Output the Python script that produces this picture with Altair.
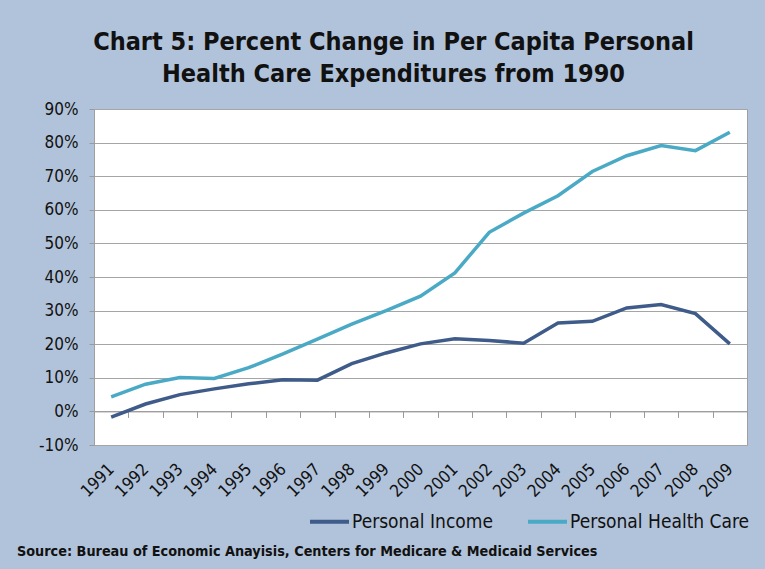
import altair as alt
import pandas as pd

years = [str(y) for y in range(1991, 2010)]
income = [-1.7, 2.2, 5.0, 6.7, 8.2, 9.4, 9.3, 14.2, 17.4, 20.1, 21.6, 21.1, 20.3, 26.3, 26.8, 30.8, 31.8, 29.1, 20.1]
health = [4.3, 8.1, 10.1, 9.8, 13.0, 17.1, 21.5, 26.0, 30.0, 34.3, 41.2, 53.3, 59.0, 64.2, 71.4, 76.1, 79.1, 77.6, 83.1]
series = ["Personal Income", "Personal Health Care"]
colors = ["#3e5b89", "#4aaac5"]
y_ticks = [-0.1, 0.0, 0.1, 0.2, 0.3, 0.4, 0.5, 0.6, 0.7, 0.8, 0.9]
title_lines = ["Chart 5: Percent Change in Per Capita Personal", "Health Care Expenditures from 1990"]
source = "Source: Bureau of Economic Anayisis, Centers for Medicare & Medicaid Services"

FONT = "Liberation Sans Narrow, DejaVu Sans Condensed, Lato, sans-serif"

rows = []
for i, yr in enumerate(years):
    rows.append({"year": yr, "series": series[0], "value": income[i] / 100})
    rows.append({"year": yr, "series": series[1], "value": health[i] / 100})
df = pd.DataFrame(rows)

lines = alt.Chart(df).mark_line(strokeWidth=3.5).encode(
    x=alt.X("year:O", sort=years, bandPosition=0.5,
            scale=alt.Scale(type="band", paddingInner=0, paddingOuter=0),
            axis=alt.Axis(title=None, labelAngle=-45, labelAlign="right", labelBaseline="middle",
                          tickBand="extent", tickSize=6, tickColor="#9a9a9a",
                          domainColor="#9a9a9a", offset=-33.6, labelPadding=49,
                          labelFontSize=17, labelFont=FONT, labelColor="#111111")),
    y=alt.Y("value:Q", scale=alt.Scale(domain=[-0.1, 0.9], nice=False, zero=False),
            axis=alt.Axis(title=None, format=".0%", values=y_ticks, tickSize=5,
                          labelExpr="replace(datum.label, '\u2212', '-')",
                          tickColor="#9a9a9a", gridColor="#a5a5a5", domain=False,
                          labelFontSize=17, labelFont=FONT, labelColor="#111111", labelPadding=11)),
    color=alt.Color("series:N", sort=series,
                    scale=alt.Scale(domain=series, range=colors),
                    legend=alt.Legend(title=None, orient="none", legendX=214, legendY=391,
                                      direction="horizontal", symbolType="stroke",
                                      symbolSize=1521, symbolStrokeWidth=4,
                                      labelFontSize=19, labelFont=FONT, labelColor="#111111",
                                      labelLimit=0, labelOffset=1, columnPadding=27)),
)

src_df = pd.DataFrame({"text": [source]})
src = alt.Chart(src_df).mark_text(align="left", baseline="middle", fontSize=14.3,
                                  fontWeight="bold", font=FONT, color="#111111").encode(
    text="text:N", x=alt.value(-77), y=alt.value(443))

chart = alt.layer(lines, src).properties(
    width=653, height=336,
    padding={"left": 94, "top": 109, "right": 18, "bottom": 124},
    autosize=alt.AutoSizeParams(type="none"),
    background="#b1c3da",
    title=alt.TitleParams(text=title_lines, fontSize=25, font=FONT, fontWeight="bold",
                          color="#111111", anchor="middle", dx=-27, offset=13, lineHeight=32),
).configure_view(stroke="#a0a0a0", fill="white")

chart.save("out.html", embed_options={"renderer": "svg", "actions": False})
